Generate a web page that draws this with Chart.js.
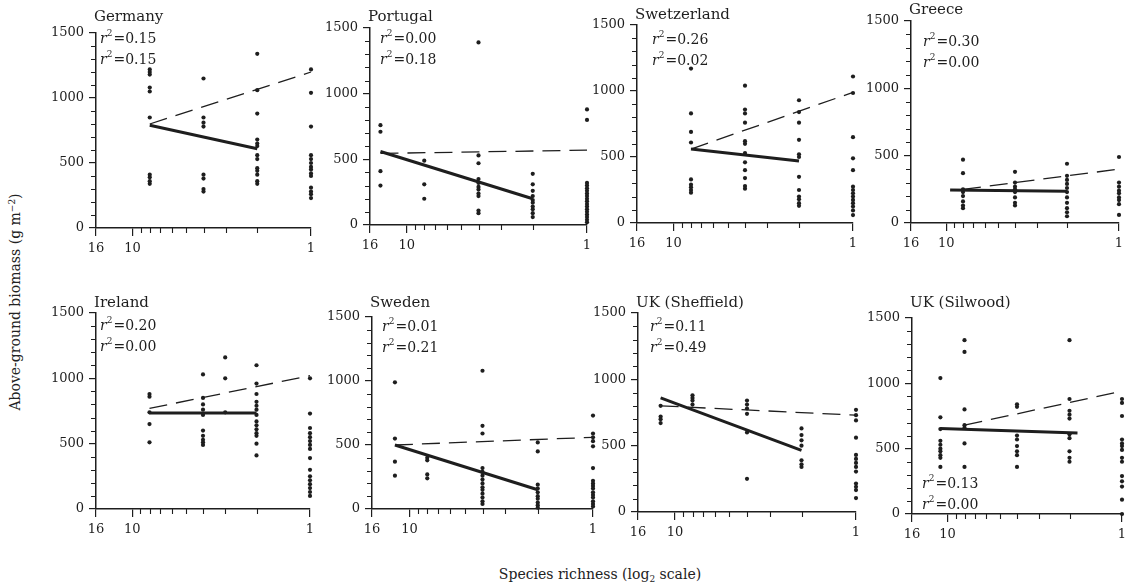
<!DOCTYPE html>
<html>
<head>
<meta charset="utf-8">
<script src="https://cdn.jsdelivr.net/npm/chart.js@4.4.0/dist/chart.umd.min.js"></script>
<style>
  body { margin: 0; background: #fff; }
  #wrap { position: relative; width: 1133px; height: 586px; overflow: hidden; font-family: "DejaVu Serif", serif; color: #222; }
  #wrap canvas { position: absolute; }
  .ytitle { position: absolute; left: 15px; top: 302px; transform: translate(-50%, -50%) rotate(-90deg); white-space: nowrap; font-size: 14px; }
  .xtitle { position: absolute; left: 600px; top: 575px; transform: translate(-50%, -50%); white-space: nowrap; font-size: 14px; }
  sup, sub { font-size: 9px; }
</style>
</head>
<body>
<div id="wrap">
  <div class="ytitle">Above-ground biomass (g m<sup>−2</sup>)</div>
  <div class="xtitle">Species richness (log<sub>2</sub> scale)</div>
</div>
<script>
//! =============== Data ===================================== //
const sites = ['Germany', 'Portugal', 'Swetzerland', 'Greece', 'Ireland', 'Sweden', 'UK (Sheffield)', 'UK (Silwood)'];
const r2First = ['0.15', '0.00', '0.26', '0.30', '0.20', '0.01', '0.11', '0.13'];
const r2Second = ['0.15', '0.18', '0.02', '0.00', '0.00', '0.21', '0.49', '0.00'];
const xTicks = [16, 10, 1];
const xMinorTicks = [9, 8, 7, 6, 5, 4, 3, 2];
const yTicks = [0, 500, 1000, 1500];
const yMinorTicks = [100, 200, 300, 400, 600, 700, 800, 900, 1100, 1200, 1300, 1400];

const germanyLevels = [8, 4, 2, 1];
const germanyBiomass = [
  [1220, 1200, 1180, 1080, 1050, 850, 410, 390, 360, 340],
  [1150, 850, 810, 780, 410, 380, 300, 280],
  [1340, 1060, 880, 680, 650, 630, 560, 530, 460, 440, 410, 360, 340],
  [1220, 1040, 780, 560, 530, 500, 470, 450, 420, 400, 310, 280, 260, 230]
];
const germanySolid = [[8, 790], [2, 610]];
const germanyDashed = [[8, 800], [1, 1200]];

const portugalLevels = [14, 8, 4, 2, 1];
const portugalBiomass = [
  [760, 710, 410, 300],
  [490, 310, 200],
  [1390, 530, 470, 350, 320, 290, 270, 240, 220, 110, 90],
  [390, 310, 260, 220, 190, 170, 140, 120, 90, 60],
  [880, 800, 320, 300, 280, 260, 240, 220, 200, 180, 160, 140, 120, 100, 80, 60, 40, 20]
];
const portugalSolid = [[14, 560], [2, 200]];
const portugalDashed = [[14, 545], [1, 570]];

const swetzerlandLevels = [8, 4, 2, 1];
const swetzerlandBiomass = [
  [1170, 830, 690, 610, 330, 290, 270, 250, 230],
  [1040, 860, 830, 760, 620, 600, 530, 460, 400, 340, 280, 260],
  [930, 840, 760, 630, 520, 500, 350, 250, 200, 180, 150, 130],
  [1110, 985, 650, 490, 400, 275, 250, 225, 200, 175, 150, 125, 95, 60]
];
const swetzerlandSolid = [[8, 560], [2, 470]];
const swetzerlandDashed = [[8, 560], [1, 990]];

const greeceLevels = [8, 4, 2, 1];
const greeceBiomass = [
  [470, 370, 250, 230, 200, 160, 130, 110],
  [380, 300, 270, 250, 230, 190, 150, 130],
  [440, 350, 320, 290, 260, 230, 190, 150, 110, 80, 50],
  [490, 300, 270, 240, 220, 190, 170, 140, 60]
];
const greeceSolid = [[9.5, 245], [2, 235]];
const greeceDashed = [[8, 250], [1, 400]];

const irelandLevels = [8, 4, 3, 2, 1];
const irelandBiomass = [
  [880, 860, 740, 650, 510],
  [1030, 850, 800, 760, 720, 600, 560, 530, 510, 490],
  [1160, 1000, 740],
  [1100, 960, 880, 820, 790, 760, 720, 670, 640, 610, 580, 560, 500, 410],
  [1000, 730, 620, 580, 550, 520, 490, 460, 390, 300, 250, 220, 190, 160, 130, 100]
];
const irelandSolid = [[8, 735], [2, 735]];
const irelandDashed = [[8, 770], [1, 1020]];

const swedenLevels = [12, 8, 4, 2, 1];
const swedenBiomass = [
  [990, 550, 370, 260],
  [400, 380, 270, 240],
  [1080, 650, 590, 320, 290, 260, 230, 200, 170, 150, 120, 90, 60, 40],
  [520, 450, 190, 160, 130, 100, 80, 50, 30, 10],
  [730, 590, 560, 530, 490, 320, 220, 200, 180, 160, 130, 110, 90, 60, 40, 20]
];
const swedenSolid = [[12, 500], [2, 150]];
const swedenDashed = [[12, 500], [1, 560]];

const sheffieldLevels = [12, 8, 4, 2, 1];
const sheffieldBiomass = [
  [800, 720, 700, 670],
  [880, 860, 840, 810],
  [840, 810, 780, 740, 600, 250],
  [630, 580, 540, 500, 390, 360, 340],
  [770, 730, 690, 560, 430, 400, 370, 340, 305, 215, 190, 165, 105]
];
const sheffieldSolid = [[12, 860], [2, 465]];
const sheffieldDashed = [[12, 800], [1, 730]];

const silwoodLevels = [11, 8, 4, 2, 1];
const silwoodBiomass = [
  [1040, 740, 650, 560, 530, 500, 480, 450, 430, 360],
  [1330, 1240, 800, 680, 660, 540, 360],
  [840, 820, 600, 570, 520, 480, 450, 360],
  [1330, 880, 790, 760, 730, 610, 580, 480, 430, 400],
  [880, 850, 750, 570, 540, 520, 490, 430, 400, 290, 250, 210, 110, 0]
];
const silwoodSolid = [[11, 655], [1.8, 620]];
const silwoodDashed = [[8, 680], [1, 940]];

const panels = [
  [germanyLevels, germanyBiomass, germanySolid, germanyDashed],
  [portugalLevels, portugalBiomass, portugalSolid, portugalDashed],
  [swetzerlandLevels, swetzerlandBiomass, swetzerlandSolid, swetzerlandDashed],
  [greeceLevels, greeceBiomass, greeceSolid, greeceDashed],
  [irelandLevels, irelandBiomass, irelandSolid, irelandDashed],
  [swedenLevels, swedenBiomass, swedenSolid, swedenDashed],
  [sheffieldLevels, sheffieldBiomass, sheffieldSolid, sheffieldDashed],
  [silwoodLevels, silwoodBiomass, silwoodSolid, silwoodDashed]
];

//! =============== Layout (plot area in page px) =============== //
// left, right, top, bottom of each plot area (the scan is a bit skewed)
const frames = [
  [96, 311, 33, 228], [370, 587, 28, 225], [637, 853, 25, 223], [911, 1119, 21, 223],
  [96, 310, 313, 509], [372, 593, 317, 509], [638, 856, 313, 512], [912, 1122, 318, 514]
];
// title y, first r2 line y, r2 x offset from axis
const textPos = [
  [17, 39, 4], [17, 39, 10], [15, 40, 15], [10, 42, 12],
  [303, 326, 4], [303, 327, 10], [303, 327, 12], [303, 484, 10]
];

const FONT = '"DejaVu Serif", serif';
const INK = '#1e1e1e';
const wrap = document.getElementById('wrap');

//! =============== Plugins =============== //
const panelText = {
  id: 'panelText',
  afterDraw(chart, args, o) {
    const ctx = chart.ctx;
    ctx.save();
    ctx.fillStyle = INK;
    ctx.textBaseline = 'middle';
    ctx.font = '15px ' + FONT;
    ctx.fillText(o.title, o.titleX, o.titleY);
    o.r2.forEach((val, i) => {
      let x = o.r2X;
      const y = o.r2Y + i * 21;
      ctx.font = 'italic 14px ' + FONT;
      ctx.fillText('r', x, y);
      x += ctx.measureText('r').width;
      ctx.font = '9px ' + FONT;
      ctx.fillText('2', x, y - 5);
      x += ctx.measureText('2').width + 1;
      ctx.font = '14px ' + FONT;
      ctx.fillText('=' + val, x, y);
    });
    ctx.restore();
  }
};

// short unlabeled ticks between the labeled ones
const minorTicks = {
  id: 'minorTicks',
  afterDraw(chart) {
    const { ctx, scales: { x, y } } = chart;
    ctx.save();
    ctx.strokeStyle = INK;
    ctx.lineWidth = 1.1;
    ctx.beginPath();
    xMinorTicks.forEach(v => {
      const px = Math.round(x.getPixelForValue(v)) + 0.5;
      ctx.moveTo(px, y.bottom);
      ctx.lineTo(px, y.bottom + 5);
    });
    yMinorTicks.forEach(v => {
      const py = Math.round(y.getPixelForValue(v)) + 0.5;
      ctx.moveTo(x.left - 5, py);
      ctx.lineTo(x.left, py);
    });
    ctx.stroke();
    ctx.restore();
  }
};

const toXY = pts => pts.map(([x, y]) => ({ x, y }));

function makePanel(i) {
  const [levels, biomass, solid, dashed] = panels[i];
  const [L, R, T, B] = frames[i];
  const [titleY, r2Y, r2Off] = textPos[i];
  const top = i < 4 ? 0 : 270;
  const left = L - 60;

  const cv = document.createElement('canvas');
  cv.width = (R - L) + 72;
  cv.height = (B - top) + 34;
  cv.style.left = left + 'px';
  cv.style.top = top + 'px';
  wrap.appendChild(cv);

  const points = [];
  levels.forEach((lv, k) => biomass[k].forEach(v => points.push({ x: lv, y: v })));

  const tickFont = { family: FONT, size: 13 };

  new Chart(cv, {
    type: 'scatter',
    data: {
      datasets: [
        { data: toXY(solid), showLine: true, borderColor: INK, borderWidth: 3, pointRadius: 0, clip: false },
        { data: toXY(dashed), showLine: true, borderColor: INK, borderWidth: 1.3, borderDash: [18, 9], pointRadius: 0, clip: false },
        { data: points, pointRadius: 2.1, backgroundColor: INK, borderWidth: 0, clip: false }
      ]
    },
    options: {
      responsive: false,
      animation: false,
      events: [],
      layout: { padding: { top: T - top, right: 12, left: 0, bottom: 0 } },
      plugins: {
        legend: { display: false },
        tooltip: { enabled: false },
        panelText: {
          title: sites[i], titleX: L - 2 - left, titleY: titleY - top,
          r2: [r2First[i], r2Second[i]], r2X: L + r2Off - left, r2Y: r2Y - top
        }
      },
      scales: {
        x: {
          type: 'logarithmic', reverse: true, min: 1, max: 16, position: 'bottom',
          afterBuildTicks: s => { s.ticks = xTicks.map(v => ({ value: v })); },
          afterFit: s => { s.height = 34; },
          ticks: { callback: v => String(v), font: tickFont, color: INK, padding: 5, maxRotation: 0, autoSkip: false },
          grid: { drawOnChartArea: false, tickLength: 8, color: INK, lineWidth: 1.2 },
          border: { color: INK, width: 1.5 }
        },
        y: {
          min: 0, max: 1500, position: 'left',
          afterBuildTicks: s => { s.ticks = yTicks.map(v => ({ value: v })); },
          afterFit: s => { s.width = 60; },
          ticks: { callback: v => String(v), font: tickFont, color: INK, padding: 5, autoSkip: false },
          grid: { drawOnChartArea: false, tickLength: 7, color: INK, lineWidth: 1.2 },
          border: { color: INK, width: 1.5 }
        }
      }
    },
    plugins: [panelText, minorTicks]
  });
}

panels.forEach((p, i) => makePanel(i));
</script>
</body>
</html>
